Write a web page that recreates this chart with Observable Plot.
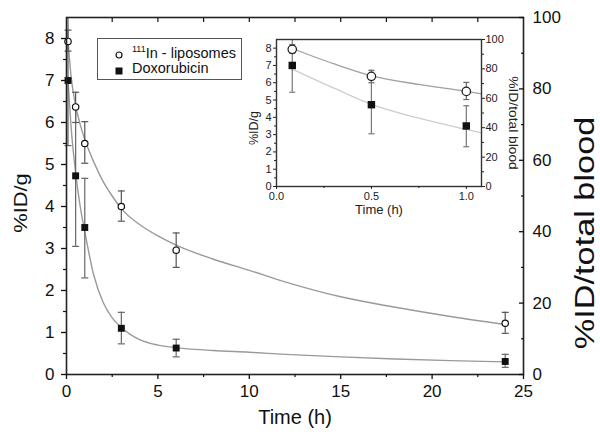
<!DOCTYPE html>
<html><head><meta charset="utf-8">
<script src="https://cdn.jsdelivr.net/npm/d3@7"></script>
<script src="https://cdn.jsdelivr.net/npm/@observablehq/plot@0.6"></script>
<style>
body{margin:0;background:#fff;}
#wrap{position:relative;width:600px;height:445px;font-family:"Liberation Sans",Arial,sans-serif;overflow:hidden;}
#main,#inset,#legend{position:absolute;}
#main{left:0;top:0;}
#inset{left:240px;top:30px;}
#legend{left:97px;top:38px;width:145px;height:42px;border:1.2px solid #555;box-sizing:border-box;background:#fff;font-size:14.5px;color:#111;}
#legend svg{position:absolute;}
#legend span{position:absolute;left:34px;white-space:nowrap;}
#legend sup{font-size:9px;vertical-align:6px;}
</style></head><body>
<div id="wrap"><div id="main"></div><div id="inset"></div><div id="legend"></div></div>
<script>
// ---- data ----
const times    = [0.083, 0.5, 1, 3, 6, 24];
const lipoMean = [7.93, 6.37, 5.5, 4.0, 2.96, 1.22];
const lipoLo   = [7.7, 6.0, 5.03, 3.65, 2.55, 0.98];
const lipoHi   = [8.2, 6.72, 6.02, 4.37, 3.37, 1.48];
const doxMean  = [7.0, 4.73, 3.5, 1.1, 0.63, 0.31];
const doxLo    = [5.45, 3.05, 2.3, 0.73, 0.42, 0.17];
const doxHi    = [8.5, 6.4, 4.67, 1.48, 0.84, 0.48];

const fitT    = [0.083, 0.25, 0.5, 0.75, 1, 1.5, 2, 2.5, 3, 4, 5, 6, 8, 10, 12, 15, 18, 21, 24];
const lipoFit = [7.95, 7.1, 6.4, 5.95, 5.6, 5.05, 4.6, 4.25, 3.95, 3.57, 3.3, 3.08, 2.75, 2.48, 2.2, 1.85, 1.6, 1.38, 1.19];
const doxFit  = [7.0, 5.9, 4.8, 4.0, 3.4, 2.35, 1.72, 1.35, 1.12, 0.83, 0.7, 0.64, 0.57, 0.53, 0.48, 0.42, 0.37, 0.33, 0.3];

const insetT       = [0.09, 0.3, 0.5, 0.75, 1.0, 1.08];
const insetLipoFit = [7.95, 7.1, 6.4, 5.9, 5.5, 5.35];
const insetDoxFit  = [6.75, 5.7, 4.75, 3.95, 3.3, 3.1];

const leftTicks   = [0,1,2,3,4,5,6,7,8];
const rightTicks  = [0,20,40,60,80,100];
const mainXTicks  = [0,5,10,15,20,25];
const insetXTicks = [0,0.5,1.0];
const yMax = 8.5, rightMax = 100;
const legendLabels = ["111In - liposomes", "Doxorubicin"];

// ---- tables ----
const lipoPts = times.map((t,i)=>({t, m:lipoMean[i], lo:lipoLo[i], hi:lipoHi[i]}));
const doxPts  = times.map((t,i)=>({t, m:doxMean[i], lo:doxLo[i], hi:Math.min(doxHi[i], yMax)}));
const lipoCurve = fitT.map((t,i)=>({t, y:lipoFit[i]}));
const doxCurve  = fitT.map((t,i)=>({t, y:doxFit[i]}));
const inLipoCurve = insetT.map((t,i)=>({t, y:insetLipoFit[i]}));
const inDoxCurve  = insetT.map((t,i)=>({t, y:insetDoxFit[i]}));
const toLeft = v => v*yMax/rightMax;

const cap = {draw(ctx, size){ const w = Math.sqrt(size/Math.PI); ctx.moveTo(-w,0); ctx.lineTo(w,0); }};
const font = "'Liberation Sans', Arial, sans-serif";
const blank = () => "";
const range = (a,b,s) => d3.range(a,b+1e-9,s);

function errMarks(pts, capR, color){
  return [
    Plot.ruleX(pts, {x:"t", y1:"lo", y2:"hi", stroke:color, strokeWidth:1.2}),
    Plot.dot(pts, {x:"t", y:"lo", symbol:cap, r:capR, stroke:color, strokeWidth:1.2}),
    Plot.dot(pts.filter(d=>d.hi<yMax), {x:"t", y:"hi", symbol:cap, r:capR, stroke:color, strokeWidth:1.2})
  ];
}
function stretch(svg, sel, k){
  svg.querySelectorAll(sel + " text").forEach(t=>{
    const tr = t.getAttribute("transform") || "";
    t.setAttribute("transform", tr + ` scale(${k},1)`);
  });
}

// ---- main chart ----
const main = Plot.plot({
  width:600, height:445,
  marginLeft:66, marginRight:77, marginTop:17, marginBottom:71,
  x:{domain:[0,25]}, y:{domain:[0,yMax]},
  style:{fontFamily:font, background:"transparent", color:"#111"},
  marks:[
    Plot.line(lipoCurve, {x:"t", y:"y", stroke:"#9a9a9a", strokeWidth:1.4, curve:"monotone-x"}),
    Plot.line(doxCurve,  {x:"t", y:"y", stroke:"#9a9a9a", strokeWidth:1.4, curve:"monotone-x"}),
    ...errMarks(lipoPts, 3.5, "#555"),
    ...errMarks(doxPts, 3.5, "#666"),
    Plot.dot(lipoPts, {x:"t", y:"m", r:3.2, fill:"white", stroke:"#111", strokeWidth:1.2}),
    Plot.dot(doxPts,  {x:"t", y:"m", r:3.9, symbol:"square", fill:"#111"}),
    Plot.frame({stroke:"#222", strokeWidth:1.6}),
    Plot.axisY(leftTicks, {anchor:"left", tickSize:5, tickPadding:7, fontSize:17, label:null, strokeWidth:1.3}),
    Plot.axisY(range(0.5,8,1), {anchor:"left", tickSize:3, tickFormat:blank, label:null, strokeWidth:1.2}),
    Plot.axisY(rightTicks.map(toLeft), {anchor:"right", tickSize:-5, tickFormat:blank, label:null, strokeWidth:1.3}),
    Plot.axisY(range(10,90,20).map(toLeft), {anchor:"right", tickSize:-3, tickFormat:blank, label:null, strokeWidth:1.2}),
    Plot.axisY(rightTicks.map(toLeft), {anchor:"right", tickSize:0, tickPadding:9, fontSize:17, label:null, tickFormat:d=>String(Math.round(d*rightMax/yMax))}),
    Plot.axisX(mainXTicks, {anchor:"bottom", tickSize:5, tickPadding:5, fontSize:17, label:null, strokeWidth:1.3}),
    Plot.axisX(range(2.5,22.5,5), {anchor:"bottom", tickSize:3, tickFormat:blank, label:null, strokeWidth:1.2}),
    Plot.axisX(range(2.5,22.5,2.5), {anchor:"top", tickSize:-4, tickFormat:blank, label:null, strokeWidth:1.2}),
    Plot.text(["Time (h)"], {frameAnchor:"bottom", dy:49, fontSize:20, fill:"#111"}),
    Plot.text(["%ID/g"], {frameAnchor:"left", textAnchor:"middle", dx:-46, dy:7, rotate:-90, fontSize:19, fill:"#111", className:"llab"}),
    Plot.text(["%ID/total blood"], {frameAnchor:"right", textAnchor:"middle", dx:62, dy:37, rotate:-90, fontSize:27, fill:"#111", className:"rlab"})
  ]
});
document.getElementById("main").appendChild(main);
stretch(main, ".rlab", 1.27);
stretch(main, ".llab", 1.15);

// ---- inset ----
const inLipo = lipoPts.filter(d=>d.t<=1);
const inDox  = doxPts.filter(d=>d.t<=1);
const inset = Plot.plot({
  width:300, height:195,
  marginLeft:36, marginRight:59, marginTop:9, marginBottom:39,
  x:{domain:[0,1.08]}, y:{domain:[0,yMax]},
  style:{fontFamily:font, background:"transparent", color:"#222"},
  marks:[
    Plot.line(inLipoCurve, {x:"t", y:"y", stroke:"#a0a0a0", strokeWidth:1.3, curve:"monotone-x"}),
    Plot.line(inDoxCurve,  {x:"t", y:"y", stroke:"#cdcdcd", strokeWidth:1.3, curve:"monotone-x"}),
    ...errMarks(inLipo, 3, "#666"),
    ...errMarks(inDox, 3, "#777"),
    Plot.dot(inLipo, {x:"t", y:"m", r:4.2, fill:"white", stroke:"#222", strokeWidth:1.3}),
    Plot.dot(inDox,  {x:"t", y:"m", r:4.2, symbol:"square", fill:"#111"}),
    Plot.frame({stroke:"#333", strokeWidth:1.4}),
    Plot.axisY(leftTicks, {anchor:"left", tickSize:3, tickPadding:2, fontSize:11, label:null}),
    Plot.axisY(range(0.5,8,1), {anchor:"left", tickSize:2, tickFormat:blank, label:null}),
    Plot.axisY(rightTicks.map(toLeft), {anchor:"right", tickSize:3, tickPadding:1, fontSize:11, label:null, tickFormat:d=>String(Math.round(d*rightMax/yMax))}),
    Plot.axisY(range(10,90,20).map(toLeft), {anchor:"right", tickSize:2, tickFormat:blank, label:null}),
    Plot.axisX(insetXTicks, {anchor:"bottom", tickSize:3, tickPadding:3, fontSize:11, label:null, tickFormat:d3.format(".1f")}),
    Plot.axisX([0.25,0.75], {anchor:"bottom", tickSize:2, tickFormat:blank, label:null}),
    Plot.text(["Time (h)"], {frameAnchor:"bottom", dy:27, fontSize:13, fill:"#222"}),
    Plot.text(["%ID/g"], {frameAnchor:"left", textAnchor:"middle", dx:-23, dy:15, rotate:-90, fontSize:12.5, fill:"#222"}),
    Plot.text(["%ID/total blood"], {frameAnchor:"right", textAnchor:"middle", dx:31, dy:10, rotate:90, fontSize:12, fill:"#222", className:"irlab"})
  ]
});
document.getElementById("inset").appendChild(inset);
stretch(inset, ".irlab", 1.15);

// ---- legend ----
const lg = document.getElementById("legend");
lg.innerHTML =
  `<svg width="10" height="10" style="left:16px;top:11px"><circle cx="5" cy="5" r="3" fill="white" stroke="#111" stroke-width="1.2"/></svg>` +
  `<span style="top:5px"><sup>${legendLabels[0].slice(0,3)}</sup>${legendLabels[0].slice(3)}</span>` +
  `<svg width="10" height="10" style="left:16px;top:27px"><rect x="1.5" y="1.5" width="7" height="7" fill="#111"/></svg>` +
  `<span style="top:21px">${legendLabels[1]}</span>`;
</script>
</body></html>
